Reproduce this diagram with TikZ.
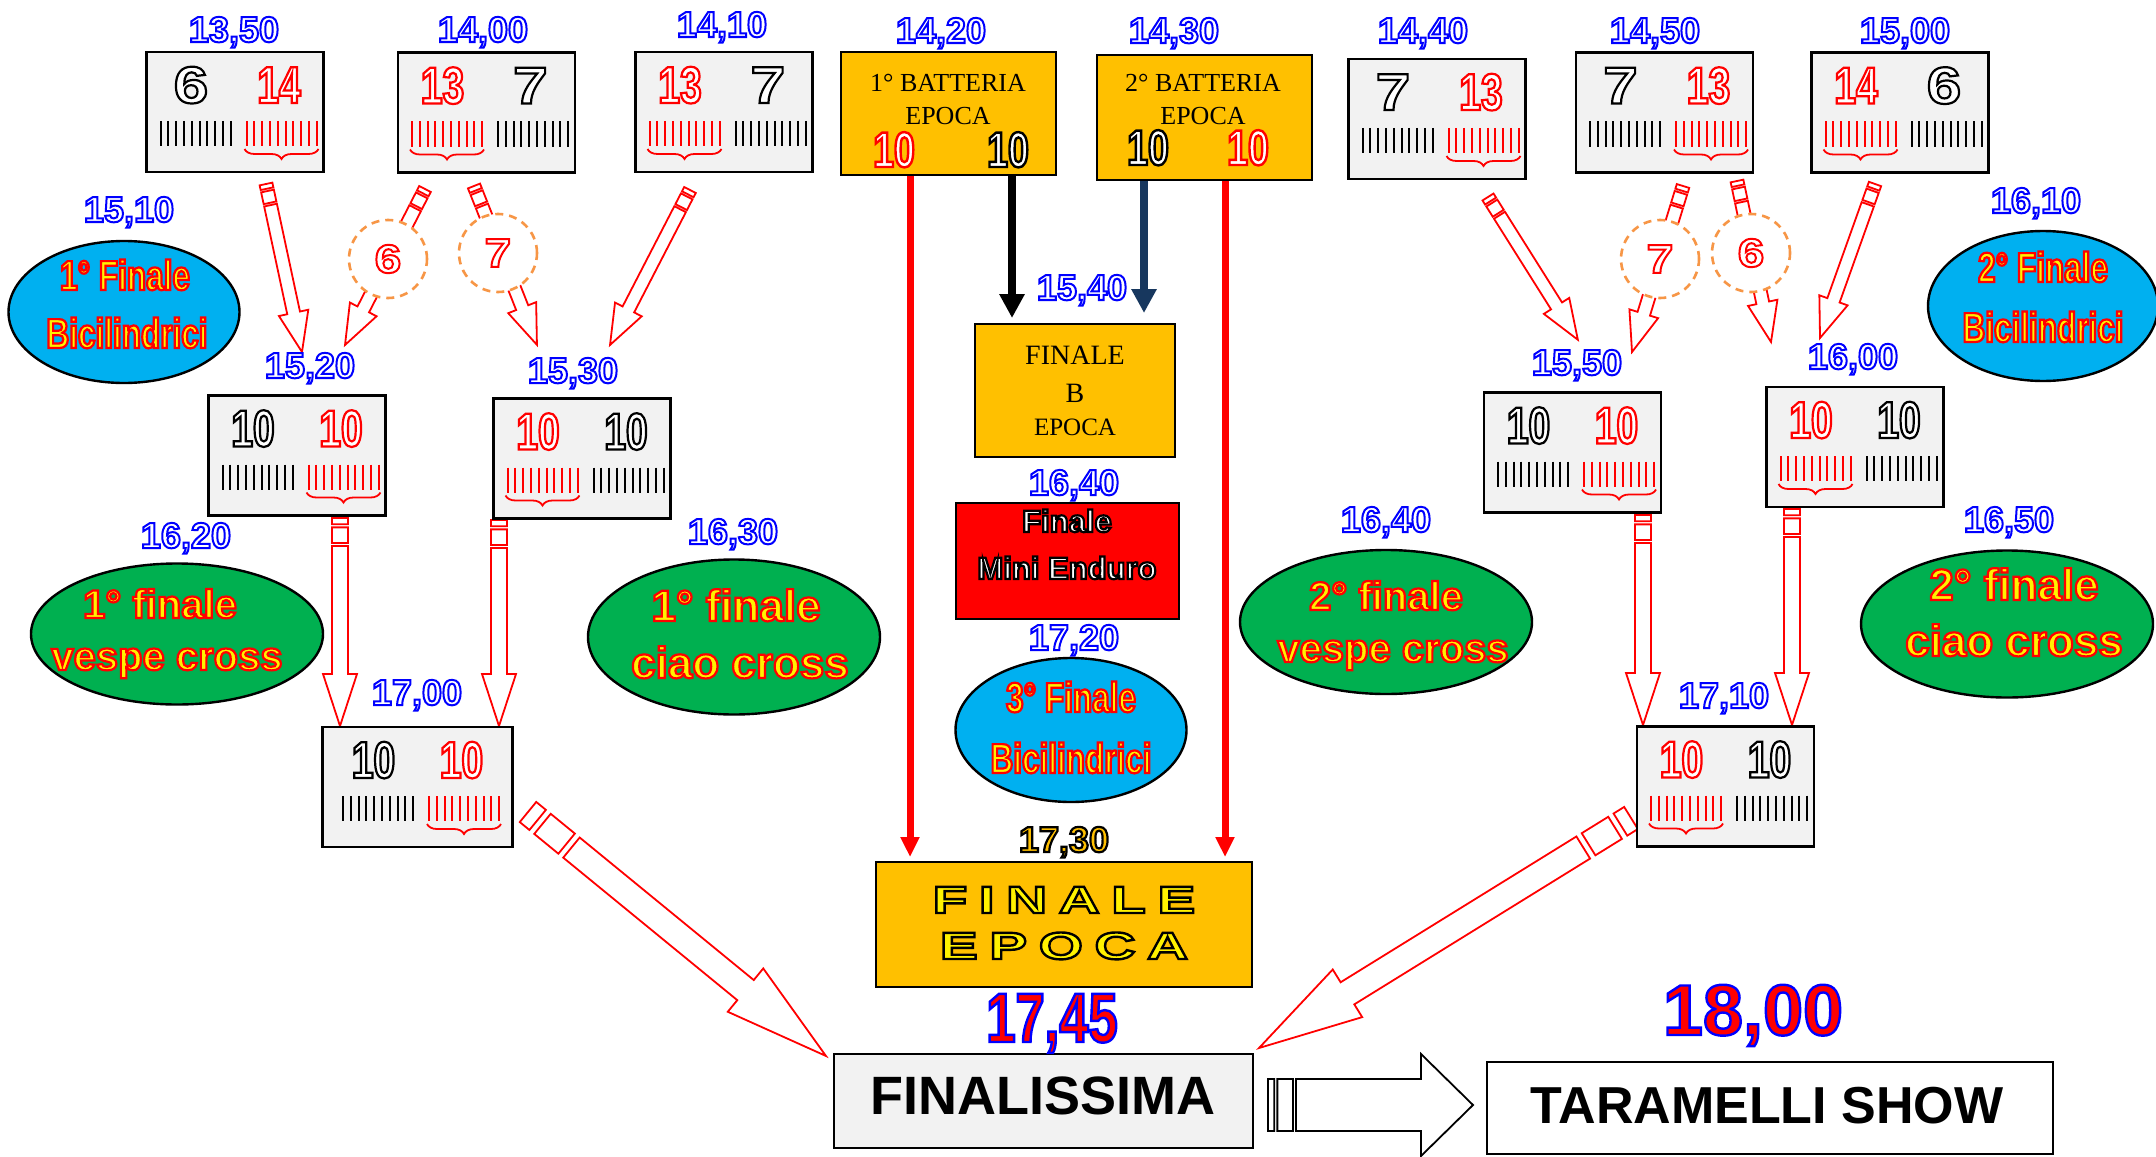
\documentclass[tikz,border=0pt]{standalone}
\usepackage{fontspec}
\setmainfont{Liberation Sans}
\newfontfamily\timesf{Liberation Serif}
\newfontfamily\narrowf[FakeStretch=0.75]{Liberation Sans}
\newfontfamily\digitf[FakeStretch=1.2]{Liberation Sans}
\newfontfamily\widef[FakeStretch=1.5,LetterSpace=30]{Liberation Sans}
\usetikzlibrary{positioning,calc,arrows.meta,shapes.geometric,decorations.pathreplacing}

\definecolor{epoca}{HTML}{FFC000}
\definecolor{boxgray}{HTML}{F2F2F2}
\definecolor{vgreen}{HTML}{00B050}
\definecolor{bici}{HTML}{00B0F0}
\definecolor{dashorange}{HTML}{F79646}
\definecolor{navy}{HTML}{17375E}

% outlined text: [stroke width]{stroke rgb}{fill colour}{text}
\newcommand\olt[4][1]{{\color{#3}\special{pdf:literal direct #2 RG #1 w 2 Tr}#4\special{pdf:literal direct 0 Tr}}}
\newcommand\clock[1]{\olt{0 0 1}{white}{#1}}

% heat box: [width]{name}{centre}{left number}{right number}{red side -1/1}
\newcommand\heatbox[6][88.5pt]{%
  \node[heat, minimum width=#1] (#2) at (#3) {};
  \ifnum#6<0
    \def\lc{red}\def\ls{1 0 0}\def\rc{black}\def\rs{0 0 0}\def\bx{-39.5}%
  \else
    \def\lc{black}\def\ls{0 0 0}\def\rc{red}\def\rs{1 0 0}\def\bx{46.5}%
  \fi
  \begin{scope}[shift={(#2.center)}]
    \node[bignum] (#2-l) at (-44,-9) {\olt[1.1]{\ls}{white}{#4}};
    \node[bignum] (#2-r) at (44,-9) {\olt[1.1]{\rs}{white}{#5}};
    \foreach \i in {0,...,9}{
      \draw[tick, draw=\lc] ({-74.5+7.8*\i},9) -- ++(0,25);
      \draw[tick, draw=\rc] ({11.5+7.8*\i},9) -- ++(0,25);
    }
    \draw[red, line width=0.9pt, decorate, decoration={brace, mirror, amplitude=5pt}]
      (\bx-37,37) -- (\bx+37,37);
  \end{scope}}

% striped hollow arrow: [colour]{tail}{tip}{shaft half}{head half}{head length}
\newcommand\striped[6][red]{%
  \path let \p1=(#2), \p2=(#3) in
    \pgfextra{\pgfmathsetmacro\stang{atan2(\y2-\y1,\x2-\x1)}%
      \pgfmathsetmacro\stlen{veclen(\x2-\x1,\y2-\y1)}%
      \xdef\stang{\stang}\xdef\stlen{\stlen pt}};
  \begin{scope}[shift={(#2)}, rotate=\stang]
    \draw[hollow, draw=#1] (0pt,-#4) rectangle (0.12*#6,#4)
      (0.18*#6,-#4) rectangle (0.48*#6,#4)
      (0.54*#6,-#4) -- (\stlen-#6,-#4) -- (\stlen-#6,-#5) -- (\stlen,0pt)
      -- (\stlen-#6,#5) -- (\stlen-#6,#4) -- (0.54*#6,#4) -- cycle;
  \end{scope}}

\tikzset{
  heat/.style={draw, fill=boxgray, line width=1.2pt, minimum width=88.5pt, minimum height=60pt, inner sep=0pt},
  tick/.style={line width=1pt},
  bignum/.style={anchor=base, font=\bfseries\narrowf\fontsize{26}{26}\selectfont},
  time/.style={anchor=base, font=\bfseries\fontsize{18}{18}\selectfont},
  epbox/.style={draw, fill=epoca, line width=1.2pt, inner sep=0pt},
  serifline/.style={anchor=base, font=\timesf\fontsize{13}{13}\selectfont},
  oval/.style={ellipse, draw, line width=1.2pt, inner sep=0pt},
  ovaltext/.style={anchor=base, font=\bfseries\fontsize{20}{20}\selectfont},
  ovalnarrow/.style={anchor=base, font=\bfseries\narrowf\fontsize{21}{21}\selectfont},
  seedring/.style={circle, draw=dashorange, dash pattern=on 4pt off 3pt, line width=1.3pt, fill=white,
    minimum size=39pt, inner sep=0pt, font=\bfseries\digitf\fontsize{20}{20}\selectfont},
  hollow/.style={fill=white, line width=0.9pt, line join=miter},
  redline/.style={red, line width=3.5pt, -{Triangle[length=10pt,width=9pt]}},
  thickarrow/.style={line width=4pt, -{Triangle[length=12pt,width=12pt]}},
}

\begin{document}
\begin{tikzpicture}[x=0.5pt, y=-0.5pt]
\fill[white] (0,0) rectangle (2156,1156);
\useasboundingbox (0,0) rectangle (2156,1156);

% arrow ends
\coordinate (s1a) at (266,184);  \coordinate (s1b) at (302,352);
\coordinate (s2a) at (425,189);  \coordinate (s2b) at (345,345);
\coordinate (s3a) at (474,186);  \coordinate (s3b) at (537,345);
\coordinate (s4a) at (690,190);  \coordinate (s4b) at (610,345);
\coordinate (s5a) at (1488,197); \coordinate (s5b) at (1578,340);
\coordinate (s6a) at (1683,186); \coordinate (s6b) at (1632,352);
\coordinate (s7a) at (1737,181); \coordinate (s7b) at (1771,342);
\coordinate (s8a) at (1875,184); \coordinate (s8b) at (1820,338);
\coordinate (v1a) at (340,518);  \coordinate (v1b) at (340,726);
\coordinate (v2a) at (499,520);  \coordinate (v2b) at (499,726);
\coordinate (v3a) at (1643,515); \coordinate (v3b) at (1643,725);
\coordinate (v4a) at (1792,509); \coordinate (v4b) at (1792,725);
\coordinate (d1a) at (528,812);  \coordinate (d1b) at (826,1056);
\coordinate (d2a) at (1631,818); \coordinate (d2b) at (1259,1048);
\coordinate (fa) at (1268,1105);  \coordinate (fb) at (1473,1105);

\foreach \k in {1,...,8}
  \striped{s\k a}{s\k b}{3.25pt}{7.5pt}{20pt};
\foreach \k in {1,...,4}
  \striped{v\k a}{v\k b}{4pt}{8.5pt}{26pt};
\striped{d1a}{d1b}{6.5pt}{14pt}{52pt}
\striped{d2a}{d2b}{6.5pt}{14pt}{52pt}
\striped[black]{fa}{fb}{13pt}{25.5pt}{26pt}

% rings over the arrows
\node[seedring] (c6l) at (388,259) {\olt{1 0 0}{white}{6}};
\node[seedring] (c7l) at (498,253) {\olt{1 0 0}{white}{7}};
\node[seedring] (c7r) at (1660,259) {\olt{1 0 0}{white}{7}};
\node[seedring] (c6r) at (1751,253) {\olt{1 0 0}{white}{6}};

% heats
\heatbox{h1}{235,112}{{\digitf 6}}{14}{1}
\heatbox{h2}{486.5,112.5}{13}{{\digitf 7}}{-1}
\heatbox{h3}{724,112}{13}{{\digitf 7}}{-1}
\heatbox{h4}{1437,119}{{\digitf 7}}{13}{1}
\heatbox{h5}{1664.5,112.5}{{\digitf 7}}{13}{1}
\heatbox{h6}{1900,112.5}{14}{{\digitf 6}}{-1}
\heatbox{h7}{297,455.5}{10}{10}{1}
\heatbox{h8}{582,458.5}{10}{10}{-1}
\heatbox[95pt]{h9}{417.5,787}{10}{10}{1}
\heatbox{h10}{1572.5,452.5}{10}{10}{1}
\heatbox{h11}{1855,447}{10}{10}{-1}
\heatbox{h12}{1725.5,786.5}{10}{10}{-1}

% epoca
\node[epbox, minimum width=107.5pt, minimum height=61.5pt] (bat1) at (948.5,113.5) {};
\node[serifline] (bat1-a) at (948,92) {1° BATTERIA};
\node[serifline] (bat1-b) at (948,125) {EPOCA};
\node[bignum, font=\bfseries\narrowf\fontsize{25}{25}\selectfont] (bat1-l) at (894,167) {\olt[1.2]{1 0 0}{white}{10}};
\node[bignum, font=\bfseries\narrowf\fontsize{25}{25}\selectfont] (bat1-r) at (1008,167) {\olt[1.2]{0 0 0}{white}{10}};

\node[epbox, minimum width=107.5pt, minimum height=62.5pt] (bat2) at (1204.5,117.5) {};
\node[serifline] (bat2-a) at (1203,92) {2° BATTERIA};
\node[serifline] (bat2-b) at (1203,125) {EPOCA};
\node[bignum, font=\bfseries\narrowf\fontsize{25}{25}\selectfont] (bat2-l) at (1148,165) {\olt[1.2]{0 0 0}{white}{10}};
\node[bignum, font=\bfseries\narrowf\fontsize{25}{25}\selectfont] (bat2-r) at (1248,165) {\olt[1.2]{1 0 0}{white}{10}};

\node[epbox, minimum width=100pt, minimum height=66.5pt] (finb) at (1075,390.5) {};
\node[serifline, font=\timesf\fontsize{14}{14}\selectfont] (finb-a) at (1075,364) {FINALE};
\node[serifline, font=\timesf\fontsize{14}{14}\selectfont] (finb-b) at (1075,402) {B};
\node[serifline, font=\timesf\fontsize{12.5}{12.5}\selectfont] (finb-c) at (1075,435) {EPOCA};

\node[epbox, fill=red, minimum width=111.5pt, minimum height=58pt] (mini) at (1067.5,561) {};
\node[anchor=base, font=\bfseries\fontsize{15.5}{15.5}\selectfont] (mini-a) at (1067,532) {\olt[1.1]{0 0 0}{white}{Finale}};
\node[anchor=base, font=\bfseries\fontsize{15.5}{15.5}\selectfont] (mini-b) at (1067,579) {\olt[1.1]{0 0 0}{white}{Mini Enduro}};

\node[epbox, minimum width=188pt, minimum height=62.5pt] (finep) at (1064,924.5) {};
\node[anchor=base, font=\bfseries\widef\fontsize{19}{19}\selectfont] (finep-a) at (1064,913) {\olt[1.2]{0 0 0}{yellow}{FINALE}};
\node[anchor=base, font=\bfseries\widef\fontsize{19}{19}\selectfont] (finep-b) at (1064,959) {\olt[1.2]{0 0 0}{yellow}{EPOCA}};

% arrows out of the batteries
\coordinate (rl) at (910,857);
\coordinate (rr) at (1225,857);
\coordinate (bk) at (1012,318);
\coordinate (nv) at (1144,313);
\draw[redline] (bat1.south -| rl) -- (rl);
\draw[redline] (bat2.south -| rr) -- (rr);
\draw[thickarrow] (bat1.south -| bk) -- (bk);
\draw[thickarrow, navy] (bat2.south -| nv) -- (nv);

% finals
\node[draw, fill=boxgray, line width=1.2pt, minimum width=209.5pt, minimum height=47pt] (finis) at (1043.5,1101) {};
\node[anchor=base, font=\bfseries\fontsize{27}{27}\selectfont] (finis-t) at (1043,1114) {FINALISSIMA};
\node[draw, fill=white, line width=1.2pt, minimum width=283pt, minimum height=46pt] (taram) at (1770,1108) {};
\node[anchor=base, font=\bfseries\fontsize{26}{26}\selectfont] (taram-t) at (1767,1123) {TARAMELLI SHOW};

% ovals
\node[oval, fill=bici, minimum width=115.5pt, minimum height=71pt] (e1) at (124,312) {};
\node[ovalnarrow] (e1-a) at (125,290) {\olt[1.1]{1 0 0}{yellow}{1° Finale}};
\node[ovalnarrow] (e1-b) at (127,348) {\olt[1.1]{1 0 0}{yellow}{Bicilindrici}};

\node[oval, fill=vgreen, minimum width=146pt, minimum height=70.5pt] (e2) at (177,634) {};
\node[ovaltext] (e2-a) at (160,618) {\olt[1.1]{1 0 0}{yellow}{1° finale}};
\node[ovaltext] (e2-b) at (167,670) {\olt[1.1]{1 0 0}{yellow}{vespe cross}};

\node[oval, fill=vgreen, minimum width=146pt, minimum height=77.5pt] (e3) at (734,637) {};
\node[ovaltext, font=\bfseries\fontsize{22}{22}\selectfont] (e3-a) at (736,621) {\olt[1.1]{1 0 0}{yellow}{1° finale}};
\node[ovaltext, font=\bfseries\fontsize{22}{22}\selectfont] (e3-b) at (740,678) {\olt[1.1]{1 0 0}{yellow}{ciao cross}};

\node[oval, fill=bici, minimum width=115.5pt, minimum height=72pt] (e4) at (1071,730) {};
\node[ovalnarrow] (e4-a) at (1071,712) {\olt[1.1]{1 0 0}{yellow}{3° Finale}};
\node[ovalnarrow] (e4-b) at (1071,773) {\olt[1.1]{1 0 0}{yellow}{Bicilindrici}};

\node[oval, fill=vgreen, minimum width=146pt, minimum height=72pt] (e5) at (1386,622) {};
\node[ovaltext] (e5-a) at (1386,610) {\olt[1.1]{1 0 0}{yellow}{2° finale}};
\node[ovaltext] (e5-b) at (1393,662) {\olt[1.1]{1 0 0}{yellow}{vespe cross}};

\node[oval, fill=vgreen, minimum width=146pt, minimum height=73.5pt] (e6) at (2007,624) {};
\node[ovaltext, font=\bfseries\fontsize{22}{22}\selectfont] (e6-a) at (2014,600) {\olt[1.1]{1 0 0}{yellow}{2° finale}};
\node[ovaltext, font=\bfseries\fontsize{22}{22}\selectfont] (e6-b) at (2014,656) {\olt[1.1]{1 0 0}{yellow}{ciao cross}};

\node[oval, fill=bici, minimum width=115pt, minimum height=75pt] (e7) at (2043,306) {};
\node[ovalnarrow] (e7-a) at (2043,282) {\olt[1.1]{1 0 0}{yellow}{2° Finale}};
\node[ovalnarrow] (e7-b) at (2043,342) {\olt[1.1]{1 0 0}{yellow}{Bicilindrici}};

% times
\node[time] (t1350) at (234,42) {\clock{13,50}};
\node[time] (t1400) at (483,42) {\clock{14,00}};
\node[time] (t1410) at (722,37) {\clock{14,10}};
\node[time] (t1420) at (941,43) {\clock{14,20}};
\node[time] (t1430) at (1174,43) {\clock{14,30}};
\node[time] (t1440) at (1423,43) {\clock{14,40}};
\node[time] (t1450) at (1655,43) {\clock{14,50}};
\node[time] (t1500) at (1905,43) {\clock{15,00}};
\node[time] (t1510) at (129,222) {\clock{15,10}};
\node[time] (t1610) at (2036,213) {\clock{16,10}};
\node[time] (t1520) at (310,378) {\clock{15,20}};
\node[time] (t1530) at (573,383) {\clock{15,30}};
\node[time] (t1540) at (1082,300) {\clock{15,40}};
\node[time] (t1550) at (1577,375) {\clock{15,50}};
\node[time] (t1600) at (1853,369) {\clock{16,00}};
\node[time] (t1620) at (186,548) {\clock{16,20}};
\node[time] (t1630) at (733,544) {\clock{16,30}};
\node[time] (t1640a) at (1074,495) {\clock{16,40}};
\node[time] (t1640b) at (1386,532) {\clock{16,40}};
\node[time] (t1650) at (2009,532) {\clock{16,50}};
\node[time] (t1720) at (1074,650) {\clock{17,20}};
\node[time] (t1700) at (417,705) {\clock{17,00}};
\node[time] (t1710) at (1724,708) {\clock{17,10}};
\node[time] (t1730) at (1064,852) {\olt[1.1]{0 0 0}{epoca}{17,30}};
\node[anchor=base, font=\bfseries\narrowf\fontsize{35}{35}\selectfont] (t1745) at (1052,1042) {\olt[1.2]{0 0 1}{red}{17,45}};
\node[anchor=base, font=\bfseries\fontsize{36}{36}\selectfont] (t1800) at (1753,1035) {\olt[1.2]{0 0 1}{red}{18,00}};
\end{tikzpicture}
\end{document}
